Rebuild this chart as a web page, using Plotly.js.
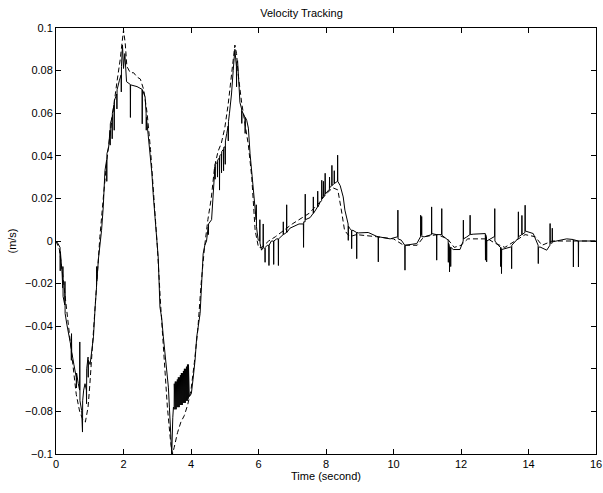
<!DOCTYPE html>
<html>
<head>
<meta charset="utf-8">
<script src="https://cdn.plot.ly/plotly-3.0.1.min.js"></script>
<style>html,body{margin:0;padding:0;background:#fff;}#chart{width:603px;height:493px;}</style>
</head>
<body>
<div id="chart"></div>
<script>
// Measured (actual) velocity - solid line, [time, value] samples
var solidSamples = [[0,0],[0.05,-0.001],[0.12,-0.003],[0.125,-0.014],[0.13,-0.005],[0.18,-0.015],[0.2,-0.022],[0.205,-0.012],[0.21,-0.026],[0.26,-0.03],[0.265,-0.019],[0.27,-0.034],[0.32,-0.039],[0.36,-0.042],[0.41,-0.0466],[0.45,-0.05],[0.455,-0.056],[0.46,-0.0435],[0.465,-0.052],[0.53,-0.058],[0.6,-0.064],[0.605,-0.069],[0.61,-0.062],[0.66,-0.067],[0.7,-0.07],[0.705,-0.0474],[0.71,-0.075],[0.76,-0.0796],[0.785,-0.0897],[0.79,-0.075],[0.82,-0.07],[0.86,-0.067],[0.9,-0.07],[0.905,-0.0764],[0.91,-0.06],[0.95,-0.0545],[0.955,-0.064],[0.96,-0.056],[1.01,-0.058],[1.06,-0.0513],[1.11,-0.045],[1.16,-0.031],[1.2,-0.022],[1.205,-0.012],[1.21,-0.019],[1.26,-0.008],[1.3,-0.002],[1.35,0.005],[1.4,0.016],[1.45,0.033],[1.5,0.038],[1.505,0.028],[1.51,0.041],[1.56,0.044],[1.6,0.052],[1.605,0.045],[1.61,0.055],[1.66,0.058],[1.665,0.048],[1.67,0.06],[1.72,0.064],[1.725,0.052],[1.73,0.066],[1.8,0.069],[1.805,0.062],[1.81,0.071],[1.88,0.0755],[1.93,0.078],[1.935,0.07],[1.94,0.082],[1.97,0.092],[2.0,0.081],[2.04,0.088],[2.09,0.0748],[2.2,0.0735],[2.205,0.058],[2.21,0.0733],[2.4,0.0725],[2.55,0.0712],[2.555,0.055],[2.56,0.071],[2.64,0.0677],[2.67,0.06],[2.675,0.052],[2.68,0.058],[2.73,0.05],[2.79,0.041],[2.84,0.032],[2.88,0.022],[2.93,0.012],[2.98,0.0],[3.03,-0.008],[3.08,-0.031],[3.13,-0.036],[3.18,-0.045],[3.23,-0.053],[3.28,-0.06],[3.33,-0.0686],[3.36,-0.078],[3.38,-0.085],[3.43,-0.1],[3.46,-0.083],[3.48,-0.078],[3.5,-0.079],[3.505,-0.067],[3.53,-0.079],[3.535,-0.066],[3.56,-0.079],[3.565,-0.066],[3.59,-0.078],[3.595,-0.065],[3.62,-0.078],[3.625,-0.064],[3.65,-0.078],[3.655,-0.064],[3.68,-0.077],[3.685,-0.063],[3.71,-0.077],[3.715,-0.062],[3.74,-0.077],[3.745,-0.062],[3.77,-0.076],[3.775,-0.061],[3.8,-0.076],[3.805,-0.06],[3.83,-0.076],[3.835,-0.06],[3.86,-0.075],[3.865,-0.059],[3.89,-0.075],[3.895,-0.058],[3.92,-0.074],[3.925,-0.058],[3.95,-0.073],[4.01,-0.0717],[4.06,-0.065],[4.12,-0.056],[4.17,-0.045],[4.22,-0.04],[4.27,-0.034],[4.32,-0.0185],[4.36,-0.006],[4.41,-0.002],[4.46,0.0],[4.51,0.0066],[4.515,0.003],[4.52,0.008],[4.61,0.01],[4.66,0.0254],[4.71,0.035],[4.715,0.029],[4.72,0.036],[4.78,0.037],[4.785,0.03],[4.79,0.038],[4.84,0.039],[4.845,0.0239],[4.85,0.04],[4.9,0.0408],[4.905,0.032],[4.91,0.042],[4.96,0.043],[4.965,0.033],[4.97,0.044],[5.01,0.0442],[5.015,0.036],[5.02,0.047],[5.06,0.0505],[5.1,0.054],[5.105,0.047],[5.11,0.056],[5.14,0.06],[5.2,0.069],[5.25,0.080],[5.3,0.090],[5.345,0.082],[5.35,0.0724],[5.355,0.084],[5.38,0.0846],[5.45,0.065],[5.5,0.062],[5.505,0.0552],[5.51,0.061],[5.55,0.0598],[5.6,0.058],[5.605,0.0505],[5.61,0.058],[5.65,0.0567],[5.7,0.053],[5.75,0.041],[5.8,0.032],[5.85,0.0223],[5.9,0.016],[5.93,0.01],[5.935,0.017],[5.94,0.0067],[5.99,0.0005],[6.035,0.0],[6.04,0.01],[6.045,-0.001],[6.09,-0.0043],[6.135,-0.003],[6.14,0.008],[6.145,-0.003],[6.19,-0.004],[6.195,-0.01],[6.2,-0.003],[6.26,-0.002],[6.305,-0.002],[6.31,-0.0115],[6.315,-0.002],[6.38,0.0],[6.445,0.0],[6.45,-0.011],[6.455,0.0],[6.54,0.001],[6.585,0.001],[6.59,-0.0115],[6.595,0.001],[6.63,0.0015],[6.73,0.003],[6.735,0.009],[6.74,0.003],[6.83,0.004],[6.835,0.017],[6.84,0.004],[6.93,0.006],[7.08,0.007],[7.2,0.008],[7.33,0.008],[7.335,-0.003],[7.34,0.009],[7.38,0.009],[7.385,0.022],[7.39,0.01],[7.53,0.011],[7.62,0.013],[7.625,0.0207],[7.63,0.013],[7.73,0.0155],[7.75,0.016],[7.755,0.0234],[7.76,0.016],[7.82,0.018],[7.87,0.019],[7.875,0.0285],[7.88,0.02],[7.92,0.021],[7.925,0.028],[7.93,0.021],[7.97,0.022],[7.975,0.0318],[7.98,0.022],[8.07,0.0238],[8.1,0.024],[8.105,0.03],[8.11,0.025],[8.17,0.026],[8.175,0.0355],[8.18,0.026],[8.24,0.027],[8.245,0.033],[8.25,0.027],[8.32,0.0278],[8.34,0.028],[8.345,0.0403],[8.35,0.028],[8.42,0.026],[8.51,0.0207],[8.56,0.0145],[8.61,0.0113],[8.655,0.008],[8.66,0.0003],[8.665,0.007],[8.7,0.006],[8.755,0.005],[8.76,-0.0036],[8.765,0.005],[8.8,0.005],[8.905,0.004],[8.91,-0.0083],[8.915,0.004],[8.96,0.0038],[9.25,0.004],[9.5,0.0022],[9.545,0.002],[9.55,-0.0098],[9.555,0.002],[9.9,0.001],[10.125,0.002],[10.13,0.0145],[10.135,0.001],[10.23,0.0004],[10.335,-0.002],[10.34,-0.0137],[10.345,-0.002],[10.69,-0.0012],[10.79,0.002],[10.8,0.002],[10.805,0.0121],[10.81,0.003],[10.83,0.003],[10.835,0.0115],[10.84,0.002],[10.93,0.002],[11.125,0.003],[11.13,0.016],[11.135,0.0035],[11.275,0.003],[11.28,-0.009],[11.285,0.003],[11.425,0.003],[11.43,0.0152],[11.435,0.0027],[11.62,0.0004],[11.625,-0.01],[11.63,-0.001],[11.655,-0.002],[11.66,-0.0145],[11.665,-0.003],[11.69,-0.003],[11.695,-0.012],[11.7,-0.003],[11.77,-0.004],[11.97,-0.004],[12.065,0.0],[12.07,0.0098],[12.075,0.001],[12.17,0.0019],[12.265,0.003],[12.27,0.0121],[12.275,0.003],[12.36,0.0032],[12.72,0.0035],[12.725,-0.009],[12.73,0.003],[12.755,0.002],[12.76,-0.0098],[12.765,0.0],[12.98,0.002],[12.995,0.002],[13.0,0.0152],[13.005,0.0],[13.1,-0.002],[13.17,-0.003],[13.175,-0.012],[13.18,-0.003],[13.195,-0.0036],[13.2,-0.0153],[13.205,-0.004],[13.48,-0.0028],[13.495,-0.003],[13.5,-0.013],[13.505,-0.002],[13.68,0.001],[13.695,0.001],[13.7,0.0137],[13.705,0.002],[13.8,0.003],[13.805,0.012],[13.81,0.003],[13.895,0.004],[13.9,0.0168],[13.905,0.0047],[14.14,0.0035],[14.285,-0.002],[14.29,-0.0106],[14.295,-0.003],[14.34,-0.0028],[14.54,-0.0043],[14.635,-0.002],[14.64,0.0082],[14.645,-0.001],[14.7,-0.001],[14.705,0.006],[14.71,-0.0004],[15.13,0.001],[15.325,0.0007],[15.33,-0.0122],[15.335,0.0006],[15.475,0.0],[15.48,-0.0122],[15.485,0.0],[16.0,0.0]];

// Desired (reference) velocity - dashed line
var dashT = [0,0.1,0.2,0.3,0.4,0.5,0.6,0.7,0.8,0.87,0.95,1.0,1.1,1.2,1.3,1.4,1.5,1.6,1.7,1.8,1.9,2.0,2.05,2.1,2.2,2.3,2.4,2.5,2.6,2.7,2.8,2.9,3.0,3.1,3.2,3.3,3.4,3.45,3.5,3.6,3.7,3.8,3.9,4.0,4.1,4.2,4.3,4.4,4.5,4.6,4.7,4.8,4.9,5.0,5.1,5.2,5.3,5.35,5.4,5.5,5.6,5.7,5.8,5.85,5.9,6.0,6.1,6.3,6.5,7.0,7.5,7.8,8.0,8.2,8.35,8.45,8.55,8.7,8.9,9.5,10.0,10.3,10.7,10.9,11.3,11.6,11.8,12.0,12.2,12.8,13.0,13.3,13.6,13.9,14.2,14.4,14.7,15.2,15.5,16.0];
var dashV = [0,-0.004,-0.016,-0.03,-0.047,-0.06,-0.072,-0.08,-0.084,-0.085,-0.078,-0.068,-0.045,-0.02,0.002,0.02,0.037,0.05,0.063,0.074,0.085,0.099,0.093,0.082,0.079,0.079,0.077,0.076,0.071,0.06,0.043,0.022,-0.002,-0.03,-0.055,-0.078,-0.095,-0.1,-0.097,-0.09,-0.085,-0.082,-0.077,-0.07,-0.057,-0.042,-0.02,-0.003,0.01,0.02,0.035,0.042,0.046,0.053,0.064,0.077,0.092,0.088,0.078,0.065,0.055,0.045,0.03,0.015,0.005,-0.003,-0.003,0.0,0.002,0.008,0.013,0.018,0.022,0.025,0.024,0.015,0.005,0.002,0.003,0.002,0.001,-0.002,-0.002,0.002,0.003,0.001,-0.003,-0.002,0.001,0.001,-0.001,-0.003,0.0,0.003,0.002,-0.002,0.0,0.0,0.0,0.0];

var xTickVals = [0,2,4,6,8,10,12,14,16];
var yTickVals = [-0.1,-0.08,-0.06,-0.04,-0.02,0,0.02,0.04,0.06,0.08,0.1];
var yTickText = ['\u22120.1','\u22120.08','\u22120.06','\u22120.04','\u22120.02','0','0.02','0.04','0.06','0.08','0.1'];

var solidT = solidSamples.map(function (p) { return p[0]; });
var solidV = solidSamples.map(function (p) { return p[1]; });

var font = {family: 'Liberation Sans, Arial, Helvetica, sans-serif', size: 11, color: '#000'};

var traces = [
  {x: dashT, y: dashV, mode: 'lines', line: {color: '#000', width: 1, dash: '5px,3px'}, hoverinfo: 'skip'},
  {x: solidT, y: solidV, mode: 'lines', line: {color: '#000', width: 1}, hoverinfo: 'skip'}
];

var layout = {
  width: 603, height: 493,
  margin: {l: 56, r: 7, t: 28, b: 39, pad: 0},
  paper_bgcolor: '#fff', plot_bgcolor: '#fff',
  showlegend: false,
  font: font,
  title: {text: 'Velocity Tracking', font: font, x: 0.5, xanchor: 'center', y: 0.982, yanchor: 'top'},
  xaxis: {
    range: [0, 16], tickvals: xTickVals, ticktext: xTickVals.map(String),
    ticks: 'inside', ticklen: 5, tickcolor: '#000', tickwidth: 1,
    showline: true, linecolor: '#000', linewidth: 1, mirror: 'ticks',
    showgrid: false, zeroline: false, tickfont: font,
    title: {text: 'Time (second)', font: font, standoff: 3}
  },
  yaxis: {
    range: [-0.1, 0.1], tickvals: yTickVals, ticktext: yTickText,
    ticks: 'inside', ticklen: 5, tickcolor: '#000', tickwidth: 1,
    showline: true, linecolor: '#000', linewidth: 1, mirror: 'ticks',
    showgrid: false, zeroline: false, tickfont: font,
    title: {text: '(m/s)', font: font, standoff: 6}
  }
};

Plotly.newPlot('chart', traces, layout, {staticPlot: true, displayModeBar: false});
</script>
</body>
</html>
